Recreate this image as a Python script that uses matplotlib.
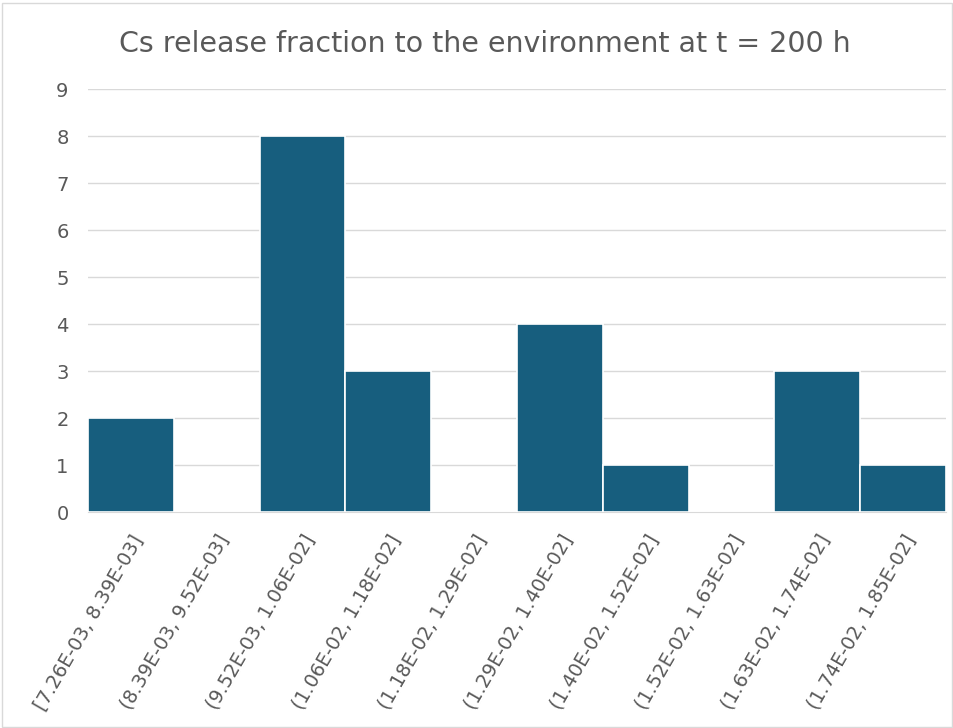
import matplotlib.pyplot as plt

bins = ['[7.26E-03, 8.39E-03]', '(8.39E-03, 9.52E-03]', '(9.52E-03, 1.06E-02]',
        '(1.06E-02, 1.18E-02]', '(1.18E-02, 1.29E-02]', '(1.29E-02, 1.40E-02]',
        '(1.40E-02, 1.52E-02]', '(1.52E-02, 1.63E-02]', '(1.63E-02, 1.74E-02]',
        '(1.74E-02, 1.85E-02]']
counts = [2, 0, 8, 3, 0, 4, 1, 0, 3, 1]

grey = '#595959'
fig = plt.figure(figsize=(9.54, 7.28), dpi=100)
ax = fig.add_axes([0.0922, 0.2967, 0.8994, 0.581])

x = range(len(bins))
ax.bar(x, counts, width=1.0, color='#175e7e', edgecolor='white', linewidth=1.2, zorder=3)

ax.set_xlim(-0.5, len(bins) - 0.5)
ax.set_ylim(0, 9)
ax.set_yticks(range(0, 10))
ax.grid(axis='y', color='#d9d9d9', linewidth=1, zorder=0)
for s in ['top', 'right', 'left']:
    ax.spines[s].set_visible(False)
ax.spines['bottom'].set_color('#d9d9d9')
ax.tick_params(axis='both', length=0, colors=grey)
ax.tick_params(axis='y', pad=14, labelsize=14)
ax.tick_params(axis='x', pad=14)

ax.set_xticks(list(x))
ax.set_xticklabels(bins, rotation=60, ha='right', rotation_mode='anchor',
                   fontsize=13.8, color=grey)

fig.text(0.508, 0.94, 'Cs release fraction to the environment at t = 200 h',
         ha='center', va='center', fontsize=20.5, color=grey)

# light frame round the whole chart
fig.patches.append(plt.Rectangle((0.002, 0.002), 0.996, 0.994, transform=fig.transFigure,
                                 fill=False, edgecolor='#d9d9d9', linewidth=1))

fig.savefig('out.png', dpi=100)
